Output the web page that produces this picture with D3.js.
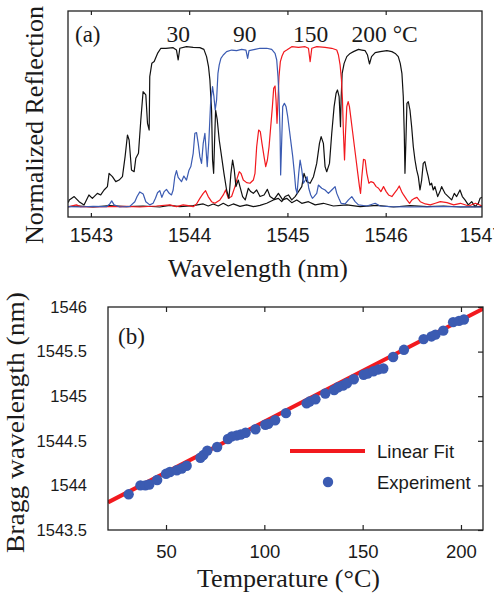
<!DOCTYPE html>
<html>
<head>
<meta charset="utf-8">
<script src="https://cdn.jsdelivr.net/npm/d3@7"></script>
<style>
  html, body { margin: 0; padding: 0; background: #fff; }
  svg { display: block; }
</style>
</head>
<body>
<svg id="chart" width="494" height="597"></svg>
<script>
// ---------------- DATA: panel (a) spectra ----------------
const wl30 = [1542.77,1542.78,1542.83,1542.88,1542.93,1542.98,1543.015,1543.066,1543.10,1543.134,1543.168,1543.185,1543.219,1543.253,1543.287,1543.321,1543.348,1543.372,1543.389,1543.413,1543.44,1543.457,1543.484,1543.508,1543.531,1543.559,1543.576,1543.593,1543.599,1543.62,1543.644,1543.678,1543.712,1543.763,1543.837,1543.871,1543.888,1543.905,1543.973,1544.041,1544.109,1544.15,1544.177,1544.197,1544.211,1544.228,1544.238,1544.249,1544.259,1544.269,1544.286,1544.306,1544.33,1544.354,1544.381,1544.405,1544.425,1544.442,1544.459,1544.476,1544.50,1544.517,1544.544,1544.571,1544.602,1544.626,1544.653,1544.687,1544.721,1544.762,1544.796,1544.823,1544.864,1544.908,1544.952,1544.993,1545.044,1545.095,1545.146,1545.214,1545.282,1545.366,1545.468,1545.604,1545.74,1545.91,1546.08,1546.25,1546.42,1546.59,1546.76,1546.98];
const refl30 = [0.03,0.046,0.067,0.035,0.015,0.077,0.056,0.087,0.077,0.108,0.129,0.212,0.191,0.16,0.17,0.191,0.316,0.451,0.42,0.233,0.222,0.306,0.337,0.545,0.721,0.701,0.524,0.482,0.815,0.898,0.909,0.96,0.992,0.992,0.996,0.981,0.919,0.992,1.002,0.998,0.996,0.985,0.94,0.877,0.794,0.607,0.295,0.212,0.42,0.607,0.545,0.42,0.316,0.212,0.108,0.056,0.212,0.295,0.233,0.129,0.17,0.129,0.067,0.046,0.119,0.098,0.087,0.108,0.067,0.077,0.112,0.067,0.05,0.087,0.046,0.056,0.029,0.046,0.025,0.035,0.015,0.025,0.008,0.015,0.004,0.012,0.002,0.01,0.004,0.008,0.002,0.004];

const wl90 = [1542.767,1542.886,1543.022,1543.158,1543.192,1543.212,1543.236,1543.294,1543.396,1543.447,1543.470,1543.498,1543.532,1543.559,1543.599,1543.633,1543.657,1543.678,1543.701,1543.722,1543.746,1543.769,1543.797,1543.820,1543.837,1543.854,1543.871,1543.888,1543.922,1543.946,1543.973,1543.997,1544.017,1544.041,1544.058,1544.075,1544.092,1544.109,1544.126,1544.143,1544.160,1544.170,1544.184,1544.201,1544.218,1544.238,1544.252,1544.265,1544.279,1544.293,1544.306,1544.323,1544.347,1544.381,1544.432,1544.483,1544.534,1544.578,1544.595,1544.609,1544.670,1544.721,1544.789,1544.840,1544.874,1544.891,1544.904,1544.914,1544.925,1544.931,1544.942,1544.952,1544.969,1544.986,1545.003,1545.020,1545.037,1545.054,1545.071,1545.084,1545.098,1545.115,1545.129,1545.146,1545.163,1545.183,1545.200,1545.217,1545.237,1545.254,1545.271,1545.298,1545.315,1545.349,1545.383,1545.417,1545.451,1545.485,1545.502,1545.523,1545.546,1545.587,1545.621,1545.655,1545.689,1545.723,1545.808,1545.893,1545.944,1546.046,1546.250,1546.590,1546.980];
const refl90 = [0.004,0.002,0.006,0.004,0.021,0.040,0.015,0.002,0.006,0.035,0.067,0.096,0.083,0.035,0.015,0.025,0.056,0.091,0.104,0.062,0.098,0.112,0.087,0.077,0.108,0.191,0.229,0.187,0.160,0.195,0.170,0.229,0.254,0.337,0.462,0.466,0.399,0.316,0.274,0.399,0.462,0.378,0.254,0.420,0.649,0.753,0.690,0.607,0.669,0.836,0.888,0.929,0.950,0.971,0.981,0.977,0.985,0.981,0.929,0.977,0.985,0.992,0.992,0.985,0.960,0.919,0.815,0.690,0.462,0.202,0.420,0.628,0.649,0.628,0.565,0.482,0.399,0.316,0.212,0.119,0.087,0.212,0.295,0.233,0.150,0.170,0.191,0.119,0.077,0.056,0.067,0.087,0.139,0.119,0.108,0.087,0.108,0.129,0.087,0.056,0.025,0.021,0.046,0.067,0.035,0.015,0.008,0.025,0.008,0.004,0.002,0.004,0.002];

const wl150 = [1542.767,1542.852,1542.893,1542.988,1543.192,1543.362,1543.498,1543.667,1543.803,1543.871,1543.939,1543.990,1544.041,1544.075,1544.109,1544.143,1544.167,1544.194,1544.228,1544.262,1544.313,1544.347,1544.371,1544.398,1544.432,1544.466,1544.493,1544.510,1544.527,1544.551,1544.585,1544.619,1544.653,1544.670,1544.687,1544.707,1544.724,1544.741,1544.762,1544.779,1544.796,1544.813,1544.830,1544.847,1544.860,1544.874,1544.884,1544.894,1544.904,1544.914,1544.928,1544.945,1544.965,1544.993,1545.044,1545.112,1545.180,1545.214,1545.231,1545.248,1545.299,1545.383,1545.451,1545.502,1545.519,1545.536,1545.550,1545.560,1545.570,1545.581,1545.591,1545.604,1545.618,1545.631,1545.648,1545.665,1545.682,1545.699,1545.716,1545.733,1545.744,1545.757,1545.774,1545.791,1545.808,1545.829,1545.849,1545.876,1545.903,1545.927,1545.951,1545.978,1546.005,1546.029,1546.063,1546.087,1546.114,1546.138,1546.162,1546.182,1546.216,1546.243,1546.267,1546.294,1546.318,1546.352,1546.403,1546.454,1546.505,1546.556,1546.624,1546.692,1546.760,1546.845,1546.913,1546.980];
const refl150 = [0.002,0.015,0.004,0.002,0.004,0.006,0.002,0.008,0.015,0.004,0.015,0.010,0.004,0.021,0.056,0.087,0.104,0.067,0.035,0.025,0.046,0.077,0.108,0.056,0.067,0.129,0.191,0.222,0.212,0.170,0.154,0.150,0.170,0.212,0.378,0.482,0.472,0.399,0.316,0.254,0.295,0.378,0.503,0.628,0.742,0.757,0.669,0.524,0.669,0.815,0.909,0.944,0.971,0.981,1.002,0.998,1.002,0.992,0.909,0.992,1.002,0.998,0.992,0.981,0.950,0.888,0.794,0.669,0.462,0.295,0.462,0.628,0.659,0.628,0.545,0.462,0.378,0.295,0.212,0.129,0.087,0.191,0.299,0.295,0.212,0.150,0.160,0.154,0.129,0.119,0.098,0.129,0.098,0.077,0.067,0.087,0.108,0.133,0.098,0.077,0.046,0.025,0.046,0.056,0.062,0.035,0.021,0.015,0.025,0.035,0.029,0.015,0.025,0.008,0.025,0.008];

const wl200 = [1542.767,1542.886,1543.022,1543.192,1543.362,1543.532,1543.701,1543.803,1543.905,1544.041,1544.143,1544.194,1544.245,1544.296,1544.347,1544.398,1544.449,1544.517,1544.585,1544.653,1544.721,1544.789,1544.857,1544.908,1544.942,1544.976,1545.010,1545.044,1545.078,1545.112,1545.146,1545.169,1545.197,1545.231,1545.265,1545.298,1545.326,1545.343,1545.366,1545.383,1545.400,1545.428,1545.451,1545.475,1545.495,1545.509,1545.526,1545.540,1545.546,1545.557,1545.577,1545.604,1545.638,1545.672,1545.723,1545.757,1545.791,1545.815,1545.835,1545.856,1545.893,1545.944,1546.012,1546.063,1546.097,1546.128,1546.148,1546.165,1546.179,1546.189,1546.196,1546.206,1546.216,1546.230,1546.247,1546.264,1546.281,1546.298,1546.315,1546.332,1546.349,1546.366,1546.382,1546.399,1546.416,1546.433,1546.450,1546.467,1546.484,1546.501,1546.529,1546.552,1546.569,1546.586,1546.603,1546.637,1546.671,1546.698,1546.722,1546.756,1546.780,1546.807,1546.841,1546.875,1546.909,1546.943,1546.960,1546.980];
const refl200 = [0.004,0.008,0.002,0.010,0.004,0.008,0.002,0.012,0.004,0.010,0.021,0.008,0.021,0.008,0.025,0.008,0.021,0.006,0.015,0.004,0.012,0.025,0.046,0.056,0.035,0.067,0.077,0.046,0.067,0.098,0.129,0.212,0.160,0.150,0.191,0.274,0.399,0.441,0.399,0.254,0.222,0.274,0.462,0.628,0.711,0.732,0.690,0.503,0.669,0.836,0.898,0.940,0.960,0.971,0.985,0.981,0.977,0.950,0.894,0.940,0.965,0.971,0.977,0.971,0.960,0.940,0.898,0.836,0.690,0.462,0.212,0.420,0.649,0.659,0.607,0.503,0.378,0.295,0.233,0.191,0.108,0.170,0.274,0.285,0.233,0.191,0.139,0.150,0.108,0.129,0.067,0.098,0.129,0.108,0.087,0.067,0.046,0.087,0.067,0.108,0.067,0.046,0.015,0.035,0.004,0.025,0.056,0.062];

const tempLabels = ["30", "90", "150", "200 °C"];
const xTicksA = [1543, 1544, 1545, 1546, 1547];

// ---------------- DATA: panel (b) ----------------
const tempC = [31,37,39.5,41.5,45.5,50,52,55.5,58,60.5,67.5,69,71,76,81.5,83.5,86,88,90.5,95.5,100.5,102,105.5,111,121.5,123,126,131,135.5,137.5,140,142,145.5,150.5,152.5,155.5,158,160.5,165.5,171,181,185,187,191,196,199,201.5];
const braggWl = [1543.90,1544.00,1544.00,1544.01,1544.06,1544.13,1544.15,1544.17,1544.19,1544.22,1544.31,1544.34,1544.39,1544.43,1544.52,1544.55,1544.56,1544.57,1544.59,1544.63,1544.68,1544.69,1544.73,1544.81,1544.92,1544.94,1544.965,1545.03,1545.07,1545.10,1545.12,1545.145,1545.19,1545.24,1545.255,1545.28,1545.30,1545.31,1545.44,1545.52,1545.64,1545.67,1545.69,1545.735,1545.83,1545.845,1545.86];
const fitT = [20.5, 211.2];
const fitWl = [1543.81, 1545.98];
const xTicksB = [50, 100, 150, 200];
const yTicksB = [1543.5, 1544, 1544.5, 1545, 1545.5, 1546];
const legendLabels = ["Linear Fit", "Experiment"];

// ---------------- DRAW ----------------
const svg = d3.select("#chart");
svg.append("rect").attr("width", 494).attr("height", 597).attr("fill", "#fff");

const SANS = "'Liberation Sans', Arial, sans-serif";
const SERIF = "'Liberation Serif', 'Times New Roman', serif";
const TXT = "#1a1a1a";
const BLACK = "#111111", BLUE = "#3b5bb2", RED = "#f2191e";

// ===== Panel (a) =====
const A = {l: 68, r: 482, t: 11, b: 217};
const xA = d3.scaleLinear().domain([1542.767, 1546.98]).range([A.l, A.r]);
const yA = d3.scaleLinear().domain([-0.0605, 1.2246]).range([A.b, A.t]);

svg.append("clipPath").attr("id", "clipA").append("rect")
  .attr("x", A.l).attr("y", A.t).attr("width", A.r - A.l).attr("height", A.b - A.t);

const lineA = d3.line().x(d => xA(d[0])).y(d => yA(d[1]));
const gCurves = svg.append("g").attr("clip-path", "url(#clipA)");
const spectra = [
  {wl: wl200, r: refl200, c: BLACK},
  {wl: wl150, r: refl150, c: RED},
  {wl: wl30, r: refl30, c: BLACK},
  {wl: wl90, r: refl90, c: BLUE}
];
spectra.forEach(s => {
  gCurves.append("path")
    .datum(d3.zip(s.wl, s.r))
    .attr("d", lineA)
    .attr("fill", "none")
    .attr("stroke", s.c)
    .attr("stroke-width", 1.2)
    .attr("stroke-linejoin", "round");
});

// axes (a)
const axA = svg.append("g").attr("transform", `translate(0,${A.b})`)
  .call(d3.axisBottom(xA).tickValues(xTicksA).tickSize(-4).tickPadding(11).tickFormat(d3.format("d")));
axA.select(".domain").remove();
axA.selectAll(".tick line").attr("stroke", "#222").attr("stroke-width", 1.2)
  .filter(d => d > 1546.98).remove();
axA.selectAll(".tick text").attr("font-family", SANS).attr("font-size", 19.5).attr("fill", TXT)
  .attr("dx", d => d > 1546.98 ? -3 : 0);

const axAt = svg.append("g").attr("transform", `translate(0,${A.t})`)
  .call(d3.axisTop(xA).tickValues(xTicksA.filter(d => d <= 1546.98)).tickSize(-4).tickFormat(""));
axAt.select(".domain").remove();
axAt.selectAll(".tick line").attr("stroke", "#222").attr("stroke-width", 1.2);

svg.append("rect").attr("x", A.l).attr("y", A.t).attr("width", A.r - A.l).attr("height", A.b - A.t)
  .attr("fill", "none").attr("stroke", "#222").attr("stroke-width", 1.3);

// labels (a)
svg.append("text").attr("x", 75).attr("y", 41.5).attr("font-family", SERIF).attr("font-size", 23)
  .attr("fill", TXT).text("(a)");
svg.selectAll(".templab").data(tempLabels).enter().append("text")
  .attr("class", "templab")
  .attr("x", (d, i) => [166.5, 233, 293, 351.5][i])
  .attr("y", 41.5).attr("font-family", SERIF).attr("font-size", 23.5).attr("fill", TXT)
  .text(d => d);

svg.append("text").attr("transform", "translate(43,125) rotate(-90)")
  .attr("text-anchor", "middle").attr("font-family", SERIF).attr("font-size", 26)
  .attr("textLength", 238).attr("lengthAdjust", "spacingAndGlyphs")
  .attr("fill", TXT).text("Normalized Reflection");
svg.append("text").attr("x", 258).attr("y", 277)
  .attr("text-anchor", "middle").attr("font-family", SERIF).attr("font-size", 25.5)
  .attr("textLength", 180).attr("lengthAdjust", "spacingAndGlyphs")
  .attr("fill", TXT).text("Wavelength (nm)");

// ===== Panel (b) =====
const B = {l: 108, r: 483, t: 307, b: 530};
const xB = d3.scaleLinear().domain([20.5, 211.2]).range([B.l, B.r]);
const yB = d3.scaleLinear().domain([1543.5, 1546]).range([B.b, B.t]);

svg.append("clipPath").attr("id", "clipB").append("rect")
  .attr("x", B.l).attr("y", B.t).attr("width", B.r - B.l).attr("height", B.b - B.t);

const gB = svg.append("g").attr("clip-path", "url(#clipB)");
gB.append("path")
  .datum(d3.zip(fitT, fitWl))
  .attr("d", d3.line().x(d => xB(d[0])).y(d => yB(d[1])))
  .attr("stroke", RED).attr("stroke-width", 4).attr("fill", "none");
gB.selectAll("circle.pt").data(d3.zip(tempC, braggWl)).enter().append("circle")
  .attr("class", "pt")
  .attr("cx", d => xB(d[0])).attr("cy", d => yB(d[1])).attr("r", 5.2)
  .attr("fill", BLUE);

const axB = svg.append("g").attr("transform", `translate(0,${B.b})`)
  .call(d3.axisBottom(xB).tickValues(xTicksB).tickSize(-5).tickPadding(15).tickFormat(d3.format("d")));
axB.select(".domain").remove();
axB.selectAll(".tick line").attr("stroke", "#222").attr("stroke-width", 1.2);
axB.selectAll(".tick text").attr("font-family", SANS).attr("font-size", 18.5).attr("fill", TXT);

const axBt = svg.append("g").attr("transform", `translate(0,${B.t})`)
  .call(d3.axisTop(xB).tickValues(xTicksB).tickSize(-5).tickFormat(""));
axBt.select(".domain").remove();
axBt.selectAll(".tick line").attr("stroke", "#222").attr("stroke-width", 1.2);

const axBl = svg.append("g").attr("transform", `translate(${B.l},0)`)
  .call(d3.axisLeft(yB).tickValues(yTicksB).tickSize(0).tickPadding(21).tickFormat(d => String(d)));
axBl.select(".domain").remove();
axBl.selectAll(".tick text").attr("font-family", SANS).attr("font-size", 16.5).attr("fill", TXT);

const axBr = svg.append("g").attr("transform", `translate(${B.r},0)`)
  .call(d3.axisRight(yB).tickValues(yTicksB).tickSize(-5).tickFormat(""));
axBr.select(".domain").remove();
axBr.selectAll(".tick line").attr("stroke", "#222").attr("stroke-width", 1.2);

svg.append("rect").attr("x", B.l).attr("y", B.t).attr("width", B.r - B.l).attr("height", B.b - B.t)
  .attr("fill", "none").attr("stroke", "#222").attr("stroke-width", 1.3);

// legend (b)
svg.append("line").attr("x1", 290).attr("x2", 365).attr("y1", 451).attr("y2", 451)
  .attr("stroke", RED).attr("stroke-width", 4);
svg.append("circle").attr("cx", 328).attr("cy", 482).attr("r", 5.2).attr("fill", BLUE);
svg.selectAll(".leg").data(legendLabels).enter().append("text")
  .attr("class", "leg")
  .attr("x", 377).attr("y", (d, i) => [457.5, 488.5][i])
  .attr("font-family", SANS).attr("font-size", 18.5).attr("fill", TXT)
  .text(d => d);

svg.append("text").attr("x", 118).attr("y", 344).attr("font-family", SERIF).attr("font-size", 23)
  .attr("fill", TXT).text("(b)");

svg.append("text").attr("transform", "translate(24,422.5) rotate(-90)")
  .attr("text-anchor", "middle").attr("font-family", SERIF).attr("font-size", 26)
  .attr("textLength", 261).attr("lengthAdjust", "spacingAndGlyphs")
  .attr("fill", TXT).text("Bragg wavelength (nm)");
svg.append("text").attr("x", 288.5).attr("y", 587)
  .attr("text-anchor", "middle").attr("font-family", SERIF).attr("font-size", 25.5)
  .attr("textLength", 183).attr("lengthAdjust", "spacingAndGlyphs")
  .attr("fill", TXT).text("Temperature (°C)");
</script>
</body>
</html>
